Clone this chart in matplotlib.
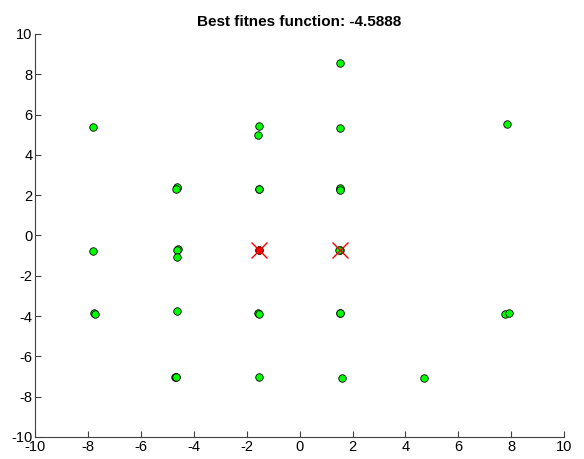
import numpy as np
import matplotlib.pyplot as plt

plt.rcParams['font.family'] = ['Liberation Sans', 'DejaVu Sans']
plt.rcParams['axes.unicode_minus'] = False

# population positions after the last generation
pop_x = [-7.80, -7.80, -7.77, -7.75,
         -4.64, -4.62, -4.66, -4.60, -4.62, -4.64, -4.63, -4.71, -4.69, -4.66,
         -1.52, -1.57, -1.52, -1.54, -1.52, -1.56, -1.54, -1.54,
         1.54, 1.54, 1.53, 1.51, 1.53, 1.51, 1.49, 1.51, 1.53, 1.60,
         4.71, 7.83, 7.77, 7.92]
pop_y = [5.40, -0.75, -3.86, -3.88,
         2.34, 2.40, 2.30, -0.69, -0.72, -1.05, -3.76, -7.04, -7.00, -7.02,
         5.43, 4.99, 2.29, 2.32, -0.72, -3.86, -3.88, -7.04,
         8.58, 5.33, 2.31, 2.35, 2.28, -0.72, -0.70, -3.86, -3.84, -7.09,
         -7.07, 5.52, -3.90, -3.83]

# best individuals found
best_x = [-1.52, 1.51]
best_y = [-0.72, -0.72]
best_fit = -4.5888

fig = plt.figure(figsize=(5.84, 4.59), dpi=100)
ax = fig.add_axes([0.060, 0.048, 0.906, 0.878])

ax.plot(pop_x, pop_y, 'o', color='#00ff00', markeredgecolor='black',
        markeredgewidth=0.6, markersize=5.4, linestyle='none')
ax.plot(best_x[0], best_y[0], 'o', color='red', markeredgecolor='#300000',
        markeredgewidth=0.5, markersize=5.4)
ax.plot(best_x, best_y, 'x', color='red', markersize=12, markeredgewidth=1.0)

ax.set_xlim(-10, 10)
ax.set_ylim(-10, 10)
ax.set_xticks(np.arange(-10, 11, 2))
ax.set_yticks(np.arange(-10, 11, 2))
ax.tick_params(direction='in', length=4, width=0.8, color='#404040',
               labelsize=10.5, pad=2)
for side in ['top', 'right']:
    ax.spines[side].set_visible(False)
for side in ['left', 'bottom']:
    ax.spines[side].set_color('#404040')
    ax.spines[side].set_linewidth(0.8)

ax.set_title('Best fitnes function: %.4f' % best_fit, fontweight='bold',
             fontsize=11, pad=6)

fig.savefig('out.png', dpi=100)
